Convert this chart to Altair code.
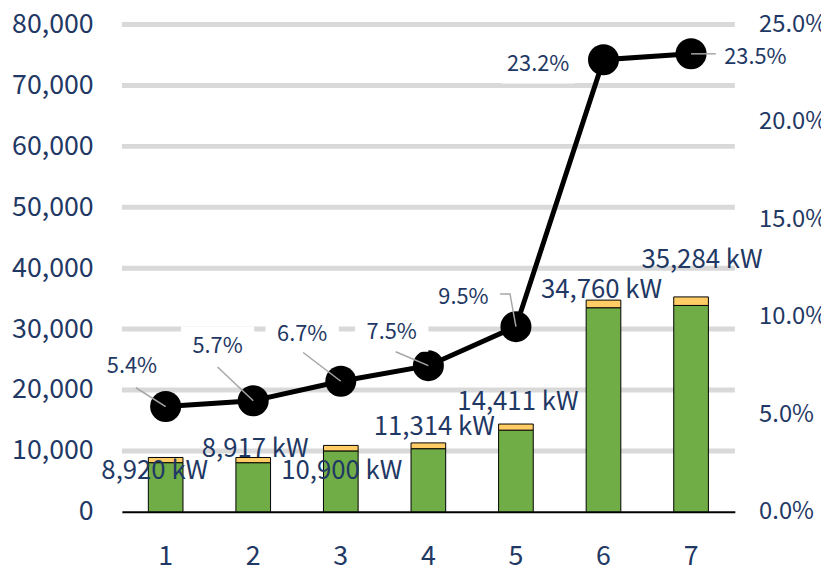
import altair as alt
import pandas as pd

# ---- data ----
categories = ["1", "2", "3", "4", "5", "6", "7"]
total_kw = [8920, 8917, 10900, 11314, 14411, 34760, 35284]
top_kw = [850, 850, 900, 950, 1000, 1250, 1400]          # yellow top segment
share_pct = [5.4, 5.7, 6.7, 7.5, 9.5, 23.2, 23.5]
kw_ticks = [0, 10000, 20000, 30000, 40000, 50000, 60000, 70000, 80000]
pct_ticks = [0.0, 0.05, 0.10, 0.15, 0.20, 0.25]

# ---- label nudges (pixels, relative to bar top / marker centre) ----
bar_lab_dx = [-11, 2, 1, 6, 2, -2, 11]
bar_lab_dy = [14, -9, 26, -16, -22, -10, -37]
pct_lab_dx = [-34, -36, -39, -37, -53, -66, 65]
pct_lab_dy = [-41, -55, -48, -34, -30, 4, 3]
leader_paths = [
    "M-30,-19L0,0",
    "M-36,-34L0,0",
    "M-38,-29L0,0",
    "M-33,-14L0,0",
    "M-16,-33L-6,-33L0,0",
    "M0,0L0,0",
    "M0,0L25,0",
]

NAVY = "#1F3864"
FONT = "Noto Sans CJK JP"
GREEN = "#70AD47"
YELLOW = "#FFCC66"

green_kw = [t - y for t, y in zip(total_kw, top_kw)]
stack_df = pd.DataFrame({
    "cat": categories * 2,
    "part": ["base"] * 7 + ["top"] * 7,
    "kw": green_kw + top_kw,
    "ord": [0] * 7 + [1] * 7,
})
bar_df = pd.DataFrame({
    "cat": categories,
    "kw": total_kw,
    "label": [f"{v:,} kW" for v in total_kw],
})
pct_df = pd.DataFrame({
    "cat": categories,
    "pct": [p / 100 for p in share_pct],
    "label": [f"{p:.1f}%" for p in share_pct],
    "box": [f"M{dx-37},{dy-20}h74v40h-74Z" for dx, dy in zip(pct_lab_dx, pct_lab_dy)],
    "leader": leader_paths,
})
grid_df = pd.DataFrame({"kw": kw_ticks[1:]})

x_axis = alt.Axis(title=None, labelAngle=0, labelFontSize=27, labelColor=NAVY,
                  labelFont=FONT, labelPadding=32, ticks=False,
                  domainColor="black", domainWidth=2, grid=False)
x_scale = alt.Scale(paddingInner=0, paddingOuter=0)
x_enc = alt.X("cat:O", sort=categories, scale=x_scale, axis=x_axis)
kw_scale = alt.Scale(domain=[0, 80000], nice=False)
pct_scale = alt.Scale(domain=[0, 0.25], nice=False)

kw_axis = alt.Axis(title=None, values=kw_ticks, format=",.0f", labelFontSize=27,
                   labelColor=NAVY, labelFont=FONT, labelPadding=29, ticks=False,
                   domain=False, grid=False)
pct_axis = alt.Axis(title=None, values=pct_ticks, format=".1%", labelFontSize=24,
                    labelColor=NAVY, labelFont=FONT, labelPadding=24, ticks=False,
                    domain=False, grid=False, orient="right")

grid = alt.Chart(grid_df).mark_rule(color="#D9D9D9", strokeWidth=5).encode(
    y=alt.Y("kw:Q", scale=kw_scale, axis=kw_axis),
)

bars = alt.Chart(stack_df).mark_bar(size=35, stroke="black", strokeWidth=1).encode(
    x=x_enc,
    y=alt.Y("kw:Q", stack="zero", scale=kw_scale, axis=kw_axis),
    color=alt.Color("part:N", scale=alt.Scale(domain=["base", "top"], range=[GREEN, YELLOW]),
                    legend=None),
    order=alt.Order("ord:Q"),
)

bar_label_layers = []
for i in range(len(categories)):
    bar_label_layers.append(
        alt.Chart(bar_df.iloc[[i]]).mark_text(
            font=FONT, fontSize=26, color=NAVY, align="center", baseline="middle",
            dx=bar_lab_dx[i], dy=bar_lab_dy[i],
        ).encode(
            x=x_enc,
            y=alt.Y("kw:Q", scale=kw_scale, axis=kw_axis),
            text="label:N",
        )
    )

kw_layer = alt.layer(grid, bars, *bar_label_layers)

pct_y = alt.Y("pct:Q", scale=pct_scale, axis=pct_axis)

line = alt.Chart(pct_df).mark_line(color="black", strokeWidth=5).encode(
    x=x_enc, y=pct_y)
dots = alt.Chart(pct_df).mark_point(filled=True, color="black", opacity=1, size=980).encode(
    x=x_enc, y=pct_y)
boxes = alt.Chart(pct_df).mark_point(filled=True, fill="white", strokeWidth=0,
                                     opacity=1, size=4).encode(
    x=x_enc, y=pct_y,
    shape=alt.Shape("box:N", scale=None))
leaders = alt.Chart(pct_df).mark_point(filled=False, stroke="#A6A6A6", strokeWidth=1.5,
                                       opacity=1, size=4).encode(
    x=x_enc, y=pct_y,
    shape=alt.Shape("leader:N", scale=None))

pct_label_layers = []
for i in range(len(categories)):
    pct_label_layers.append(
        alt.Chart(pct_df.iloc[[i]]).mark_text(
            font=FONT, fontSize=22, color=NAVY, align="center", baseline="middle",
            dx=pct_lab_dx[i], dy=pct_lab_dy[i],
        ).encode(x=x_enc, y=pct_y, text="label:N")
    )

pct_layer = alt.layer(line, dots, boxes, leaders, *pct_label_layers)

chart = alt.layer(kw_layer, pct_layer).resolve_scale(y="independent").properties(
    width=619, height=492,
    background="white",
    autosize=alt.AutoSizeParams(type="none"),
    padding={"left": 115, "top": 14, "right": 87, "bottom": 55},
).configure_view(
    strokeWidth=0, stroke="transparent"
).configure_axisY(
    domain=False, ticks=False, grid=False
).configure_axisX(
    grid=False
)

chart.save("out.html", embed_options={"renderer": "svg", "actions": False})
